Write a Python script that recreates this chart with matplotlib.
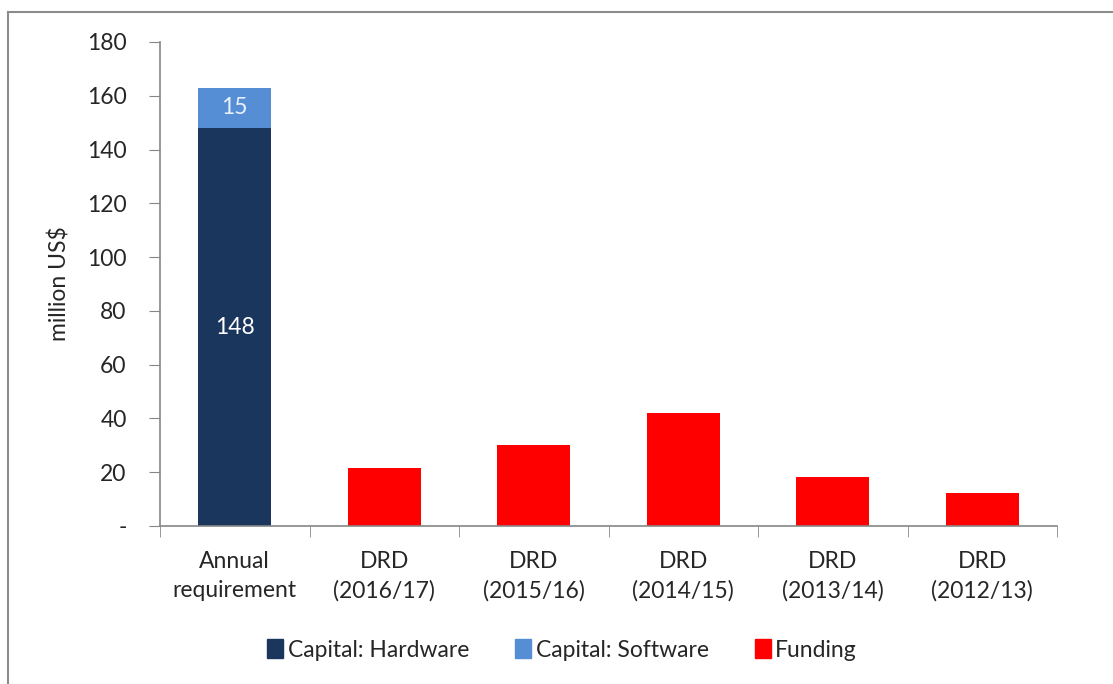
import matplotlib

matplotlib.use("Agg")
matplotlib.rcParams["font.family"] = ["Lato", "DejaVu Sans"]
import matplotlib.pyplot as plt
from matplotlib.lines import Line2D
from matplotlib.patches import Patch

categories = ["Annual\nrequirement", "DRD\n(2016/17)", "DRD\n(2015/16)",
              "DRD\n(2014/15)", "DRD\n(2013/14)", "DRD\n(2012/13)"]
hardware = [148, 0, 0, 0, 0, 0]
software = [15, 0, 0, 0, 0, 0]
funding = [0, 21.7, 30.1, 42.1, 18.1, 12.2]
yticks = [0, 20, 40, 60, 80, 100, 120, 140, 160, 180]
ytick_labels = ["-", "20", "40", "60", "80", "100", "120", "140", "160", "180"]

C_HW = "#1b365d"
C_SW = "#558ed5"
C_FUND = "#ff0000"
AXIS = "#868686"
TXT = "#262626"
FS = 16.5

fig = plt.figure(figsize=(11.13, 6.84), dpi=100)
ax = fig.add_axes([0.1438, 0.231, 0.806, 0.7076])

x = list(range(len(categories)))
w = 0.49
ax.bar(x, hardware, width=w, color=C_HW)
ax.bar(x, software, width=w, bottom=hardware, color=C_SW)
ax.bar(x, funding, width=w, color=C_FUND)

ax.text(0, hardware[0] / 2, "148", ha="center", va="center", color="white", fontsize=FS)
ax.text(0, hardware[0] + software[0] / 2, "15", ha="center", va="center", color="#e8f0fb", fontsize=FS)

ax.set_xlim(-0.5, len(categories) - 0.5)
ax.set_ylim(0, 180)
ax.set_yticks(yticks)
ax.set_yticklabels(ytick_labels, fontsize=FS, color=TXT)
ax.set_xticks(x)
ax.set_xticklabels(categories, fontsize=FS, color=TXT, linespacing=1.45)
ax.tick_params(axis="x", length=0, pad=18)
ax.set_xticks([i - 0.5 for i in range(len(categories) + 1)], minor=True)
ax.tick_params(axis="x", which="minor", length=8, color=AXIS, direction="out")
ax.tick_params(axis="y", length=8, color=AXIS, pad=16)
for s in ("top", "right"):
    ax.spines[s].set_visible(False)
for s in ("left", "bottom"):
    ax.spines[s].set_color(AXIS)
    ax.spines[s].set_linewidth(1.2)
ax.set_ylabel("million US$", fontsize=FS, color=TXT, labelpad=12)

handles = [Patch(color=C_HW), Patch(color=C_SW), Patch(color=C_FUND)]
fig.legend(handles, ["Capital: Hardware", "Capital: Software", "Funding"],
           loc="center", bbox_to_anchor=(0.505, 0.05), ncol=3, frameon=False,
           fontsize=FS, handlelength=0.7, handleheight=0.9, handletextpad=0.2,
           columnspacing=2.0, labelcolor=TXT)

# outer frame (only top and left visible in the original crop)
fig.add_artist(Line2D([0.0072, 1.0], [1 - 12 / 684] * 2, transform=fig.transFigure, color="#8c8c8c", lw=1.5))
fig.add_artist(Line2D([0.0072] * 2, [0.0, 1 - 12 / 684], transform=fig.transFigure, color="#8c8c8c", lw=1.5))

fig.savefig("out.png", dpi=100, facecolor="white")
